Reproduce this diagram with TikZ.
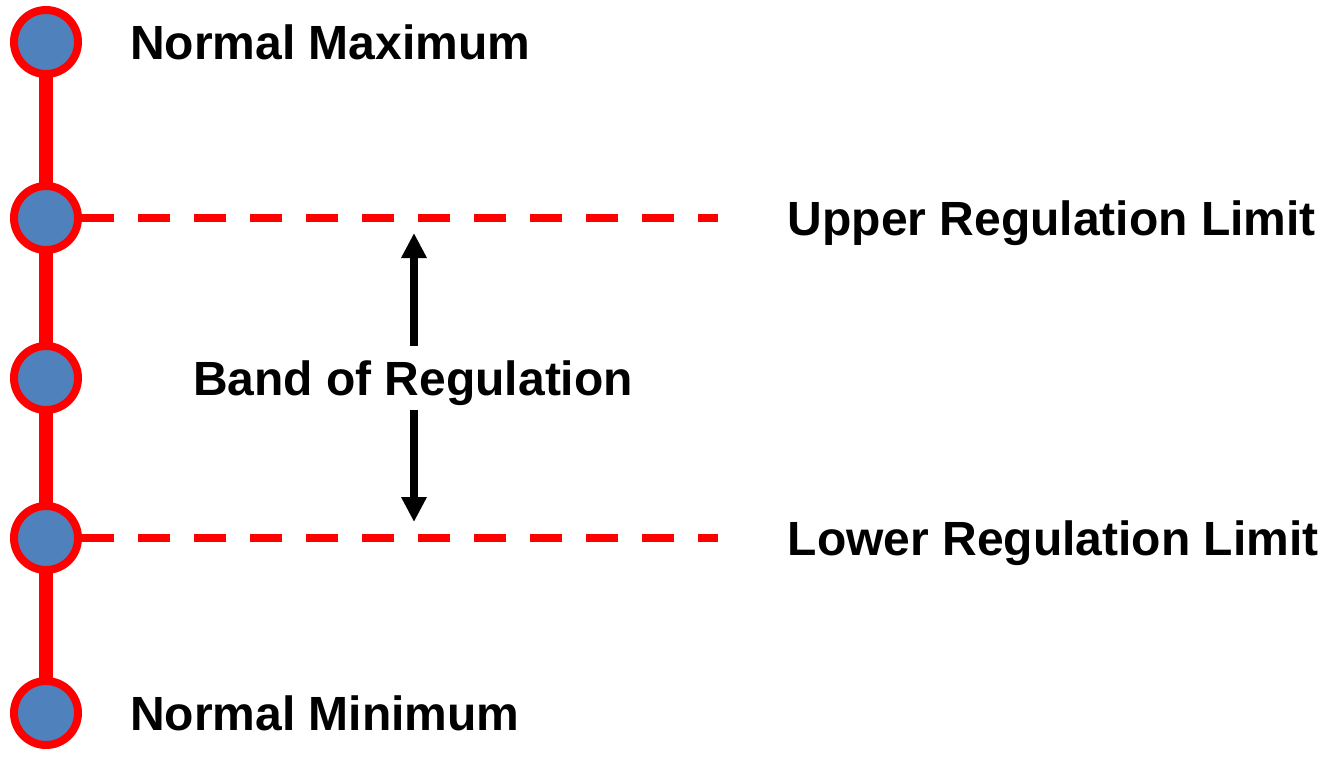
\documentclass[tikz,border=0pt]{standalone}
\usepackage{fontspec}
\setmainfont{Liberation Sans}
\usetikzlibrary{arrows.meta,backgrounds}
\definecolor{dotblue}{HTML}{4F81BD}
\definecolor{redline}{HTML}{FF0000}
\tikzset{
  dot/.style={circle,draw=redline,fill=dotblue,line width=8pt,minimum size=64pt,inner sep=0pt},
  spine/.style={draw=redline,line width=14pt},
  limitline/.style={draw=redline,line width=8pt,dash pattern=on 32pt off 24pt},
  bandarrow/.style={draw=black,line width=8pt,-{Triangle[length=25pt,width=24pt]}},
  lbl/.style={inner sep=0pt,font=\fontsize{48}{57}\selectfont\bfseries}
}
\begin{document}
\begin{tikzpicture}[x=1pt,y=-1pt]
\useasboundingbox (0,0) rectangle (1326,756);
\node[dot] (c1) at (46,42) {};
\node[dot] (c2) at (46,218) {};
\node[dot] (c3) at (46,378) {};
\node[dot] (c4) at (46,538) {};
\node[dot] (c5) at (46,713) {};
\coordinate (e2) at (718,218);
\coordinate (e4) at (718,538);
\begin{scope}[on background layer]
\draw[spine] (c1.center) -- (c5.center);
\draw[limitline] (c2.east) -- (e2);
\draw[limitline] (c4.east) -- (e4);
\end{scope}
\node[lbl,anchor=base west] (nmax) at (130,59.2) {Normal Maximum};
\node[lbl,anchor=base west] (nmin) at (130,730.2) {Normal Minimum};
\node[lbl,anchor=base west] (url) at (787.5,235.2) {Upper Regulation Limit};
\node[lbl,anchor=base west] (lrl) at (787.5,555.2) {Lower Regulation Limit};
\node[lbl,anchor=base] (band) at (413,395.2) {Band of Regulation};
\coordinate (upTail) at (414,346);
\coordinate (upTip) at (414,233);
\coordinate (dnTail) at (414,410);
\coordinate (dnTip) at (414,522);
\draw[bandarrow] (upTail) -- (upTip);
\draw[bandarrow] (dnTail) -- (dnTip);
\end{tikzpicture}
\end{document}
